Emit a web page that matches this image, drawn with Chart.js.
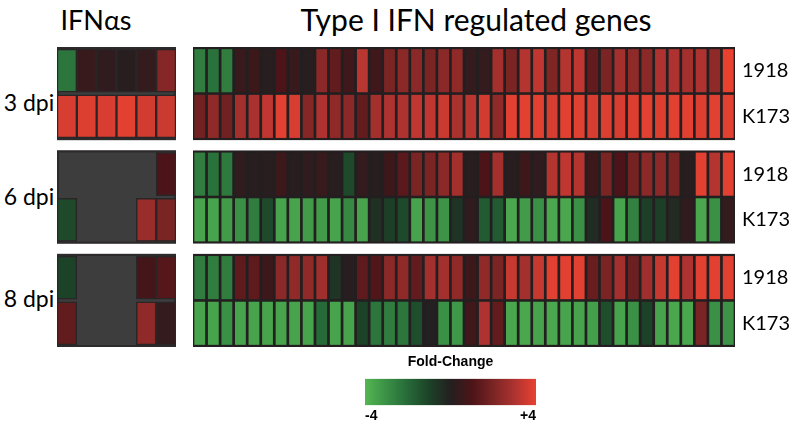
<!DOCTYPE html>
<html><head><meta charset="utf-8">
<script src="https://cdn.jsdelivr.net/npm/chart.js@4.4.0/dist/chart.umd.min.js"></script>
<style>
html,body{margin:0;padding:0;background:#fff;}
#wrap{position:relative;width:798px;height:439px;overflow:hidden;font-family:Lato,"Open Sans",sans-serif;color:#000;}
canvas{position:absolute;}
.c{position:absolute;white-space:nowrap;line-height:1;transform:translate(-50%,-50%);z-index:2;}
</style></head><body>
<div id="wrap">
  <canvas id="ifn" width="119" height="300" style="left:57px;top:47px;width:119px;height:300px;"></canvas>
  <canvas id="genes" width="605" height="300" style="left:193px;top:47px;width:605px;height:300px;"></canvas>
  <canvas id="cbar" width="210" height="76" style="left:345px;top:352px;width:210px;height:76px;"></canvas>
  <div class="c" style="left:96px;top:19px;font-size:27px;">IFNαs</div>
  <div class="c" style="left:476px;top:19px;font-size:30px;">Type I IFN regulated genes</div>
  <div class="c" id="d0" style="left:29px;top:102px;font-size:23px;"></div>
  <div class="c" id="d1" style="left:29px;top:196px;font-size:23px;"></div>
  <div class="c" id="d2" style="left:29px;top:298px;font-size:23px;"></div>
</div>
<script>
// ---------------- data ----------------
const TIMEPOINTS = ['3 dpi', '6 dpi', '8 dpi'];
const STRAINS = ['1918', 'K173'];
const IFN_COLUMNS = ['IFNα1', 'IFNα2', 'IFNα3', 'IFNα4', 'IFNα5', 'IFNα6'];
const GENE_COLUMNS = Array.from({length: 40}, (_, i) => 'Gene ' + (i + 1));
const SCALE_MIN = -4, SCALE_MAX = 4;
const LEGEND_TICKS = [-4, 4];

// log2 fold-change, IFNα genes (null = not measured)
const IFN_3DPI_1918 = [-2.3, 0.5, 0.3, 0.1, 0.4, 2.2];
const IFN_3DPI_K173 = [3.7, 3.8, 3.7, 3.9, 3.6, 3.5];
const IFN_6DPI_1918 = [null, null, null, null, null, 1.0];
const IFN_6DPI_K173 = [-1.2, null, null, null, 2.6, 2.0];
const IFN_8DPI_1918 = [-1.0, null, null, null, 0.8, 1.2];
const IFN_8DPI_K173 = [1.5, null, null, null, 2.4, 0.4];

// log2 fold-change, type I IFN regulated genes
const GENES_3DPI_1918 = [-2.5,-2.2,-2.5,0.5,0.6,0.1,1.0,0.5,0.1,2.3, 1.5,0.7,3.2,0.7,2.0,2.3,2.3,2.0,2.3,2.4, 0.4,0.4,2.8,2.0,3.1,3.3,2.1,3.1,3.3,1.5, 2.0,2.8,2.4,2.3,3.0,3.0,2.8,3.0,2.4,4.0];
const GENES_3DPI_K173 = [1.8,2.4,1.8,2.8,2.9,3.3,3.9,3.7,2.2,3.0, 2.4,2.3,1.5,2.8,3.0,3.0,3.3,3.3,3.5,2.9, 3.2,3.6,2.4,3.9,3.9,3.9,3.7,3.9,3.9,3.7, 3.8,3.7,3.8,3.9,3.8,3.9,3.9,3.8,3.9,3.9];
const GENES_6DPI_1918 = [-2.5,-2.2,-2.4,0.3,0.1,0.1,0.6,0.1,0.3,0.5, 0.1,-1.2,0.4,0.1,0.6,1.3,2.0,2.0,2.3,2.8, 0.1,1.0,2.8,0.1,0.6,0.3,3.1,3.3,3.1,0.6, 2.0,1.0,1.9,2.3,2.3,2.0,0.1,3.9,3.1,3.9];
const GENES_6DPI_K173 = [-3.5,-3.5,-3.3,-3.0,-2.5,-1.2,-3.5,-3.5,-3.3,-3.3, -3.5,-2.8,-3.5,-0.5,-0.9,-1.2,-3.5,-3.1,-3.1,-0.6, 0.3,-1.6,-1.6,-3.6,-3.3,-3.0,-3.6,-3.6,-3.0,-0.4, 1.0,-3.5,-2.6,-0.9,-0.9,-0.3,0.3,-3.6,-3.0,0.4];
const GENES_8DPI_1918 = [-2.5,-2.5,-2.5,1.4,1.4,0.6,2.3,2.4,2.4,2.7, -0.6,0.1,1.4,1.1,2.3,2.4,1.5,2.8,2.8,2.4, 0.6,2.4,2.0,3.4,2.8,3.4,3.9,3.9,3.9,1.6, 2.0,2.8,1.7,2.7,3.4,3.9,3.0,3.9,3.9,3.9];
const GENES_8DPI_K173 = [-3.5,-3.5,-3.0,-3.5,-3.5,-3.5,-3.5,-3.5,-3.5,-2.0, -3.5,-3.5,-1.0,-2.3,-2.5,-2.3,-1.3,0.0,-3.0,-3.2, 0.7,3.0,1.5,-3.6,-3.6,-3.5,-3.6,-3.5,-3.5,-3.4, -1.3,-3.5,-3.0,-1.0,-3.5,-3.6,-3.6,2.0,-3.0,-3.1];

const IFN_ROWS = [[IFN_3DPI_1918, IFN_3DPI_K173], [IFN_6DPI_1918, IFN_6DPI_K173], [IFN_8DPI_1918, IFN_8DPI_K173]];
const GENE_ROWS = [[GENES_3DPI_1918, GENES_3DPI_K173], [GENES_6DPI_1918, GENES_6DPI_K173], [GENES_8DPI_1918, GENES_8DPI_K173]];

// ---------------- layout (row units) ----------------
const PANEL_STEP = 2.4, EDGE = 0.05, ROW_H = 1, ROW_GAP = 0.06;
const PANEL_H = EDGE * 2 + ROW_H * 2 + ROW_GAP;
const Y_MAX = PANEL_STEP * (TIMEPOINTS.length - 1) + PANEL_H;
const rowTop = (p, r) => p * PANEL_STEP + EDGE + r * (ROW_H + ROW_GAP);

// ---------------- colour map ----------------
const STOPS = [
  [-4, [84,182,82]], [-3, [58,144,69]], [-2, [38,106,56]], [-1, [28,66,40]],
  [0, [36,31,32]], [1, [76,20,24]], [2, [122,36,36]], [3, [174,51,48]], [4, [232,65,48]]
];
function colorFor(v) {
  v = Math.max(SCALE_MIN, Math.min(SCALE_MAX, v));
  for (let i = 0; i < STOPS.length - 1; i++) {
    const [a, ca] = STOPS[i], [b, cb] = STOPS[i + 1];
    if (v >= a && v <= b) {
      const t = (v - a) / (b - a);
      const c = ca.map((x, k) => Math.round(x + (cb[k] - x) * t));
      return `rgb(${c[0]},${c[1]},${c[2]})`;
    }
  }
  return 'rgb(36,31,32)';
}

TIMEPOINTS.forEach((t, i) => { document.getElementById('d' + i).textContent = t; });

const panelBg = {
  id: 'panelBg',
  beforeDatasetsDraw(chart, args, o) {
    const {ctx, chartArea: {left, right}, scales: {y}} = chart;
    ctx.save();
    TIMEPOINTS.forEach((_, p) => {
      const top = y.getPixelForValue(p * PANEL_STEP), bot = y.getPixelForValue(p * PANEL_STEP + PANEL_H);
      ctx.fillStyle = o.fill;
      ctx.fillRect(left, top, right - left, bot - top);
      if (o.stroke) {
        ctx.strokeStyle = o.stroke; ctx.lineWidth = o.lw;
        ctx.strokeRect(left + o.lw / 2, top + o.lw / 2, right - left - o.lw, bot - top - o.lw);
      }
    });
    ctx.restore();
  }
};

// row labels on the right of the gene heatmap, placed with the y scale
const rowLabels = {
  id: 'rowLabels',
  afterDraw(chart, args, o) {
    if (!o.show) return;
    const {ctx, chartArea: {right}, scales: {y}} = chart;
    ctx.save();
    ctx.fillStyle = '#000';
    ctx.font = '20px Lato';
    ctx.textAlign = 'left';
    ctx.textBaseline = 'middle';
    TIMEPOINTS.forEach((_, p) => STRAINS.forEach((s, r) => {
      ctx.fillText(s, right + 7, y.getPixelForValue(rowTop(p, r) + ROW_H / 2));
    }));
    ctx.restore();
  }
};

const yScale = () => ({
  type: 'linear', min: 0, max: Y_MAX, reverse: true, display: false,
  grid: {display: false}, border: {display: false}
});

// ---------------- IFNα chart ----------------
const ifnSets = [];
IFN_ROWS.forEach((rows, p) => rows.forEach((vals, r) => {
  const top = rowTop(p, r);
  ifnSets.push({
    label: TIMEPOINTS[p] + ' ' + STRAINS[r],
    data: vals.map(v => v === null ? null : [top, top + ROW_H]),
    backgroundColor: vals.map(v => v === null ? 'rgba(0,0,0,0)' : colorFor(v)),
    borderColor: '#2a2526', borderWidth: 1.5, borderSkipped: false,
    grouped: false, barPercentage: 1, categoryPercentage: 1
  });
}));
new Chart(document.getElementById('ifn'), {
  type: 'bar',
  data: {labels: IFN_COLUMNS, datasets: ifnSets},
  plugins: [panelBg],
  options: {
    responsive: false, animation: false, layout: {padding: 0},
    plugins: {legend: {display: false}, tooltip: {enabled: false}, panelBg: {fill: '#3e3d3d', stroke: '#2c2a2a', lw: 2}},
    scales: {x: {display: false, offset: true}, y: yScale()}
  }
});

// ---------------- genes chart ----------------
const geneSets = [];
GENE_ROWS.forEach((rows, p) => rows.forEach((vals, r) => {
  const top = rowTop(p, r);
  geneSets.push({
    label: TIMEPOINTS[p] + ' ' + STRAINS[r],
    data: vals.map(() => [top, top + ROW_H]),
    backgroundColor: vals.map(colorFor),
    borderWidth: 0, grouped: false, barPercentage: 0.8, categoryPercentage: 1
  });
}));
new Chart(document.getElementById('genes'), {
  type: 'bar',
  data: {labels: GENE_COLUMNS, datasets: geneSets},
  plugins: [panelBg, rowLabels],
  options: {
    responsive: false, animation: false, layout: {padding: {left: 0, top: 0, bottom: 0, right: 63}},
    plugins: {legend: {display: false}, tooltip: {enabled: false}, panelBg: {fill: '#231f20'}, rowLabels: {show: true}},
    scales: {x: {display: false, offset: true}, y: yScale()}
  }
});

// ---------------- colour bar ----------------
function barGradient(chart) {
  const a = chart.chartArea;
  if (!a) return null;
  const g = chart.ctx.createLinearGradient(a.left, 0, a.right, 0);
  for (let v = SCALE_MIN; v <= SCALE_MAX; v += 0.25) g.addColorStop((v - SCALE_MIN) / (SCALE_MAX - SCALE_MIN), colorFor(v));
  return g;
}
new Chart(document.getElementById('cbar'), {
  type: 'bar',
  data: {labels: ['Fold-Change'], datasets: [{data: [[SCALE_MIN, SCALE_MAX]], backgroundColor: c => barGradient(c.chart),
    borderWidth: 0, barPercentage: 1, categoryPercentage: 1}]},
  options: {
    indexAxis: 'y', responsive: false, animation: false,
    layout: {padding: {left: 20, right: 19, top: 0, bottom: 0}},
    plugins: {legend: {display: false}, tooltip: {enabled: false},
      title: {display: true, text: 'Fold-Change', color: '#000', font: {family: 'Liberation Sans', size: 14, weight: 'bold'}, padding: {top: 2, bottom: 8}}},
    scales: {
      x: {type: 'linear', min: SCALE_MIN, max: SCALE_MAX,
        afterBuildTicks: s => { s.ticks = LEGEND_TICKS.map(v => ({value: v})); },
        grid: {display: false, drawTicks: false}, border: {display: false},
        ticks: {align: 'inner', maxRotation: 0, padding: 3, color: '#000', font: {family: 'Liberation Sans', size: 14, weight: 'bold'},
          callback: v => (v > 0 ? '+' : '') + v}},
      y: {display: false}
    }
  }
});
</script>
</body></html>
